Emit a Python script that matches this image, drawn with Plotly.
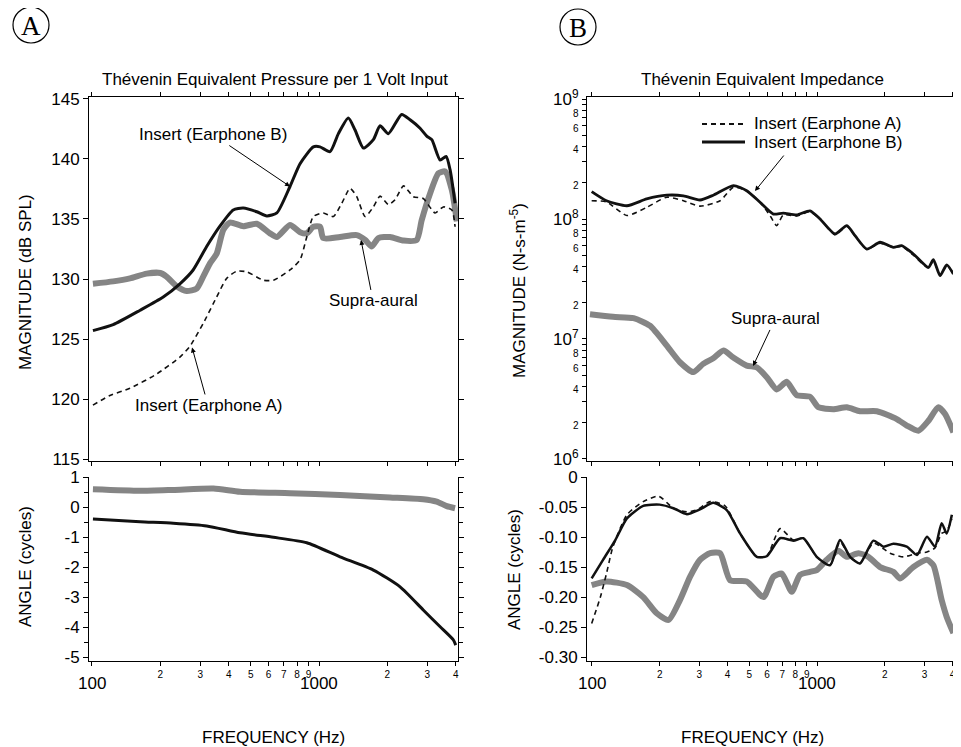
import numpy as np
import plotly.graph_objects as go

# ---------------- DATA ----------------
# Panel A, magnitude (dB SPL)
freq_A_earB = [101, 124, 163, 206, 244, 279, 320, 366, 419, 464, 532, 589, 652, 745, 825, 944, 1010, 1118, 1217,
               1346, 1441, 1568, 1735, 1857, 2020, 2312, 2517, 2786, 2981, 3138, 3415, 3626, 3776, 3973]
mag_A_earB = [125.7, 126.2, 127.4, 128.5, 129.6, 130.75, 132.7, 134.4, 135.75, 135.9, 135.6, 135.25, 135.5, 137.7,
              139.6, 141.0, 141.0, 140.6, 142.1, 143.4, 142.4, 140.9, 141.6, 142.75, 142.1, 143.7, 143.25, 142.55,
              141.9, 141.6, 139.9, 140.2, 139.1, 136.3]

freq_A_earA = [101, 120, 147, 193, 244, 270, 309, 354, 392, 434, 480, 569, 630, 745, 825, 883, 944, 1044, 1156, 1259,
               1370, 1466, 1596, 1735, 1857, 2020, 2162, 2355, 2603, 2877, 3243, 3530, 3845, 3973]
mag_A_earA = [119.5, 120.3, 120.9, 122.1, 123.5, 124.4, 126.3, 128.5, 130.05, 130.65, 130.6, 129.9, 129.9, 130.75,
              131.6, 133.5, 135.2, 135.5, 135.2, 136.3, 137.55, 136.85, 135.2, 136.0, 136.9, 136.2, 136.6, 137.75,
              136.85, 136.7, 135.5, 136.0, 135.75, 134.35]

freq_A_supra = [101, 124, 147, 174, 200, 213, 236, 261, 289, 309, 331, 354, 379, 405, 464, 532, 608, 652, 745, 825,
                883, 944, 1010, 1044, 1237, 1466, 1596, 1706, 1825, 2056, 2355, 2692, 2833, 3081, 3356, 3592, 3845, 4045]
mag_A_supra = [129.6, 129.8, 130.05, 130.45, 130.5, 130.2, 129.4, 129.0, 129.2, 130.2, 131.3, 132.1, 134.1, 134.7,
               134.4, 134.6, 133.8, 133.5, 134.5, 133.9, 133.8, 134.35, 134.35, 133.4, 133.5, 133.65, 133.25, 132.7,
               133.4, 133.5, 133.2, 133.25, 134.9, 137.1, 138.8, 138.95, 137.4, 134.8]

# Panel A, angle (cycles)
freq_A_ang_supra = [101, 163, 228, 343, 449, 745, 1237, 2056, 2877, 3296, 3654, 3973]
ang_A_supra = [0.59, 0.54, 0.57, 0.62, 0.51, 0.46, 0.40, 0.32, 0.26, 0.18, 0.03, -0.04]
freq_A_ang_insert = [101, 163, 228, 320, 449, 630, 883, 1237, 1735, 2275, 2877, 3415, 3907, 4000]
ang_A_insert = [-0.40, -0.49, -0.54, -0.63, -0.86, -1.01, -1.19, -1.66, -2.1, -2.66, -3.43, -3.99, -4.43, -4.6]

# Panel B, impedance magnitude (N-s-m^-5)
freq_B_earB = [99.7, 116, 143, 175, 215, 255, 302, 346, 425, 487, 558, 640, 708, 812, 931, 1031, 1202, 1356, 1475,
               1663, 1906, 2184, 2378, 2679, 3124, 3288, 3522, 3768, 4036]
imp_B_earB = [1.69e8, 1.42e8, 1.29e8, 1.47e8, 1.58e8, 1.56e8, 1.44e8, 1.58e8, 1.90e8, 1.72e8, 1.38e8, 1.10e8,
              1.12e8, 1.08e8, 1.17e8, 1.00e8, 7.5e7, 8.8e7, 7.26e7, 5.62e7, 6.4e7, 5.81e7, 6.0e7, 5.11e7, 3.95e7,
              4.58e7, 3.37e7, 4.14e7, 3.48e7]

freq_B_earA = [99.7, 116, 143, 175, 215, 255, 302, 371, 425, 487, 558, 618, 662, 708, 812, 931, 1031, 1202, 1356,
               1475, 1663, 1906, 2184, 2378, 2679, 3124, 3288, 3522, 3768, 4036]
imp_B_earA = [1.42e8, 1.39e8, 1.07e8, 1.25e8, 1.52e8, 1.42e8, 1.28e8, 1.42e8, 1.84e8, 1.72e8, 1.38e8, 1.07e8,
              8.8e7, 1.08e8, 1.06e8, 1.15e8, 1.0e8, 7.4e7, 8.7e7, 7.2e7, 5.6e7, 6.3e7, 5.8e7, 5.9e7, 5.0e7, 3.9e7,
              4.5e7, 3.4e7, 4.1e7, 3.5e7]

freq_B_supra = [98, 124, 153, 181, 215, 246, 282, 312, 346, 384, 425, 487, 540, 598, 662, 733, 812, 931, 1013, 1182,
                1356, 1552, 1844, 2261, 2504, 2820, 3124, 3459, 3706, 4036]
imp_B_supra = [1.61e7, 1.53e7, 1.49e7, 1.29e7, 8.8e6, 6.4e6, 5.3e6, 6.2e6, 6.9e6, 8.0e6, 7.0e6, 6.0e6, 5.8e6,
               4.8e6, 3.8e6, 4.4e6, 3.4e6, 3.3e6, 2.7e6, 2.6e6, 2.7e6, 2.5e6, 2.5e6, 2.15e6, 1.9e6, 1.72e6, 2.08e6,
               2.7e6, 2.37e6, 1.67e6]

# Panel B, angle (cycles)
freq_B_ang_earB = [99.7, 112, 127, 143, 169, 200, 230, 264, 302, 346, 397, 455, 540, 598, 685, 785, 870, 997, 1142,
                   1265, 1402, 1552, 1779, 1975, 2184, 2504, 2780, 3078, 3343, 3579, 3768, 3973]
ang_B_earB = [-0.169, -0.138, -0.105, -0.069, -0.048, -0.046, -0.052, -0.062, -0.054, -0.043, -0.055, -0.094, -0.133,
              -0.132, -0.102, -0.106, -0.102, -0.133, -0.147, -0.105, -0.133, -0.144, -0.106, -0.116, -0.111, -0.116,
              -0.130, -0.0995, -0.116, -0.077, -0.094, -0.063]
freq_B_ang_earA = [99.7, 109, 116, 124, 143, 169, 198, 230, 264, 292, 335, 390, 455, 540, 598, 685, 785, 870, 997,
                   1142, 1265, 1402, 1552, 1779, 2110, 2421, 2780, 3078, 3343, 3579, 3768, 3973]
ang_B_earA = [-0.244, -0.20, -0.161, -0.116, -0.063, -0.041, -0.032, -0.052, -0.058, -0.055, -0.041, -0.048, -0.094,
              -0.133, -0.132, -0.086, -0.105, -0.102, -0.133, -0.147, -0.108, -0.133, -0.144, -0.110, -0.127, -0.133,
              -0.127, -0.125, -0.118, -0.094, -0.090, -0.07]
freq_B_ang_supra = [99.7, 116, 143, 169, 194, 219, 246, 273, 302, 335, 371, 411, 487, 578, 640, 697, 772, 840, 931,
                    997, 1104, 1244, 1356, 1527, 1691, 1906, 2184, 2339, 2679, 3078, 3288, 3579, 3768, 4036]
ang_B_supra = [-0.18, -0.174, -0.18, -0.20, -0.227, -0.238, -0.205, -0.166, -0.138, -0.127, -0.127, -0.172, -0.174,
               -0.20, -0.166, -0.161, -0.191, -0.163, -0.158, -0.155, -0.138, -0.123, -0.133, -0.127, -0.133, -0.150,
               -0.158, -0.169, -0.150, -0.138, -0.147, -0.205, -0.233, -0.26]

# Tick values / labels
freq_tick_vals = [100, 200, 300, 400, 500, 600, 700, 800, 900, 1000, 2000, 3000, 4000]
freq_tick_text = ["", "2", "3", "4", "5", "6", "7", "8", "9", "", "2", "3", "4"]
freq_decade_vals = [100, 1000]
freq_decade_text = ["100", "1000"]
mag_db_ticks = [115, 120, 125, 130, 135, 140, 145]
ang_A_ticks = [1, 0, -1, -2, -3, -4, -5]
ang_A_text = ["1", "0", "-1", "-2", "-3", "-4", "-5"]
ang_B_ticks = [0, -0.05, -0.10, -0.15, -0.20, -0.25, -0.30]
ang_B_text = ["0", "-0.05", "-0.10", "-0.15", "-0.20", "-0.25", "-0.30"]
legend_labels = ["Insert (Earphone A)", "Insert (Earphone B)"]

# ---------------- FIGURE ----------------
W, H = 961, 747
OFF = 8  # page body margin
FONT = "Liberation Sans, Arial, Helvetica, sans-serif"
BLACK = "#111111"
GRAY = "#858585"


def px(x):
    return (x - OFF) / W


def py(y):
    return 1 - (y - OFF) / H


fig = go.Figure()


def line(xs, ys, xa, ya, color, width, dash="solid", name=None):
    fig.add_trace(go.Scatter(x=xs, y=ys, xaxis=xa, yaxis=ya, mode="lines", name=name, showlegend=False,
                             line=dict(color=color, width=width, dash=dash, shape="spline", smoothing=0.6),
                             hoverinfo="skip"))


DASH = "5px,4px"
# Panel A top
line(freq_A_supra, mag_A_supra, "x", "y", GRAY, 6, name="Supra-aural")
line(freq_A_earA, mag_A_earA, "x", "y", BLACK, 1.6, dash=DASH, name="Insert (Earphone A)")
line(freq_A_earB, mag_A_earB, "x", "y", BLACK, 3, name="Insert (Earphone B)")
# Panel A bottom
line(freq_A_ang_supra, ang_A_supra, "x2", "y2", GRAY, 6, name="Supra-aural")
line(freq_A_ang_insert, ang_A_insert, "x2", "y2", BLACK, 3, name="Insert")
# Panel B top
line(freq_B_supra, imp_B_supra, "x3", "y3", GRAY, 6, name="Supra-aural")
line(freq_B_earA, imp_B_earA, "x3", "y3", BLACK, 1.6, dash=DASH, name=legend_labels[0])
line(freq_B_earB, imp_B_earB, "x3", "y3", BLACK, 2.8, name=legend_labels[1])
# Panel B bottom
line(freq_B_ang_supra, ang_B_supra, "x4", "y4", GRAY, 6, name="Supra-aural")
line(freq_B_ang_earA, ang_B_earA, "x4", "y4", BLACK, 1.6, dash=DASH, name=legend_labels[0])
line(freq_B_ang_earB, ang_B_earB, "x4", "y4", BLACK, 2.5, name=legend_labels[1])

axis_common = dict(showline=True, linecolor="black", linewidth=1, showgrid=False, zeroline=False,
                   ticks="outside", tickcolor="black", tickwidth=1, automargin=False,
                   tickfont=dict(family=FONT, size=17, color="black"))

dom_xA = [px(89), px(458)]
dom_xB = [px(587), px(955)]
dom_top = [py(461), py(97)]
dom_bot = [py(661), py(477)]

xr_A = [1.987, 3.612]
xr_B = [1.978, 3.613]

for name, dom, anchor, rng, labels in [
    ("xaxis", dom_xA, "y", xr_A, False),
    ("xaxis2", dom_xA, "y2", xr_A, True),
    ("xaxis3", dom_xB, "y3", xr_B, False),
    ("xaxis4", dom_xB, "y4", xr_B, True),
]:
    d = dict(axis_common)
    d.update(domain=dom, anchor=anchor, type="log", range=rng, tickmode="array",
             tickvals=freq_tick_vals, ticktext=freq_tick_text, ticklen=4,
             showticklabels=labels, mirror=(False if labels else "allticks"),
             tickfont=dict(family=FONT, size=10, color="black"))
    fig.layout[name] = d

ya1 = dict(axis_common)
ya1.update(domain=dom_top, anchor="x", range=[114.85, 145.15], tickmode="array", tickvals=mag_db_ticks,
           ticklen=5, mirror="allticks")
fig.layout["yaxis"] = ya1

ya2 = dict(axis_common)
ya2.update(domain=dom_bot, anchor="x2", range=[-5.13, 1.0], tickmode="array", tickvals=ang_A_ticks,
           ticktext=ang_A_text, ticklen=5, mirror="allticks",
           minor=dict(dtick=0.5, ticks="outside", ticklen=4, tickcolor="black"))
fig.layout["yaxis2"] = ya2

imp_tick_vals, imp_tick_text = [], []
for e in [6, 7, 8]:
    for m in range(1, 10):
        imp_tick_vals.append(m * 10 ** e)
        if m == 1:
            imp_tick_text.append("10<sup>%d</sup>" % e)
        elif m % 2 == 0:
            imp_tick_text.append("<span style='font-size:10px'>%d</span>" % m)
        else:
            imp_tick_text.append("")
imp_tick_vals.append(1e9)
imp_tick_text.append("10<sup>9</sup>")

ya3 = dict(axis_common)
ya3.update(domain=dom_top, anchor="x3", type="log", range=[5.983, 9.017], tickmode="array",
           tickvals=imp_tick_vals, ticktext=imp_tick_text, ticklen=4, mirror="allticks")
fig.layout["yaxis3"] = ya3

ya4 = dict(axis_common)
ya4.update(domain=dom_bot, anchor="x4", range=[-0.3065, 0.0], tickmode="array", tickvals=ang_B_ticks,
           ticktext=ang_B_text, ticklen=5, mirror="allticks")
fig.layout["yaxis4"] = ya4

ann = []
tf = dict(family=FONT, size=17, color="black")
serif = dict(family="Liberation Serif, Times New Roman, serif", size=27, color="black")


def ptext(x, y, text, font=tf, angle=0, xanchor="center"):
    return dict(x=px(x), y=py(y), xref="paper", yref="paper", text=text, showarrow=False, font=font,
                textangle=angle, xanchor=xanchor, yanchor="middle")


for xa in ["x2", "x4"]:
    for v, t in zip(freq_decade_vals, freq_decade_text):
        ann.append(dict(x=np.log10(v), xref=xa, y=py(683), yref="paper", text=t, showarrow=False, font=tf,
                        xanchor="center", yanchor="middle"))
ann += [
    ptext(273, 737, "FREQUENCY (Hz)"),
    ptext(752, 737, "FREQUENCY (Hz)"),
    ptext(25, 282, "MAGNITUDE (dB SPL)", angle=-90),
    ptext(25, 567, "ANGLE (cycles)", angle=-90),
    ptext(518, 290, "MAGNITUDE (N-s-m<sup>-5</sup>)", angle=-90),
    ptext(514, 570, "ANGLE (cycles)", angle=-90),
    ptext(275, 80, "Thévenin Equivalent Pressure per 1 Volt Input"),
    ptext(762, 80, "Thévenin Equivalent Impedance"),
    ptext(31, 26, "A", font=serif),
    ptext(578, 28, "B", font=serif),
    ptext(752, 124, legend_labels[0], xanchor="left"),
    ptext(752, 142, legend_labels[1], xanchor="left"),
]
arrow = dict(showarrow=True, arrowhead=2, arrowsize=1, arrowwidth=1, arrowcolor="black", font=tf)
ann += [
    dict(x=np.log10(745), y=137.7, xref="x", yref="y", text="Insert (Earphone B)", ax=-77, ay=-52, **arrow),
    dict(x=np.log10(1531), y=133.25, xref="x", yref="y", text="Supra-aural", ax=12, ay=61, **arrow),
    dict(x=np.log10(276), y=124.3, xref="x", yref="y", text="Insert (Earphone A)", ax=16, ay=58, **arrow),
    dict(x=np.log10(530), y=np.log10(1.71e8), xref="x3", yref="y3", text="", ax=30, ay=-37, **arrow),
    dict(x=np.log10(520), y=np.log10(5.96e6), xref="x3", yref="y3", text="Supra-aural", ax=22, ay=-47, **arrow),
]

shapes = [
    dict(type="circle", xref="paper", yref="paper", x0=px(13), x1=px(49), y0=py(43), y1=py(7),
         line=dict(color="black", width=1.2)),
    dict(type="circle", xref="paper", yref="paper", x0=px(560), x1=px(596), y0=py(45), y1=py(9),
         line=dict(color="black", width=1.2)),
    # legend sample lines
    dict(type="line", xref="paper", yref="paper", x0=px(702), x1=px(745), y0=py(124), y1=py(124),
         line=dict(color=BLACK, width=1.8, dash=DASH)),
    dict(type="line", xref="paper", yref="paper", x0=px(702), x1=px(745), y0=py(142), y1=py(142),
         line=dict(color=BLACK, width=2.8)),
]

fig.update_layout(
    width=W, height=H, margin=dict(l=0, r=0, t=0, b=0),
    paper_bgcolor="white", plot_bgcolor="white",
    font=dict(family=FONT, size=17, color="black"),
    annotations=ann, shapes=shapes, showlegend=False,
)

fig.write_html("out.html")
